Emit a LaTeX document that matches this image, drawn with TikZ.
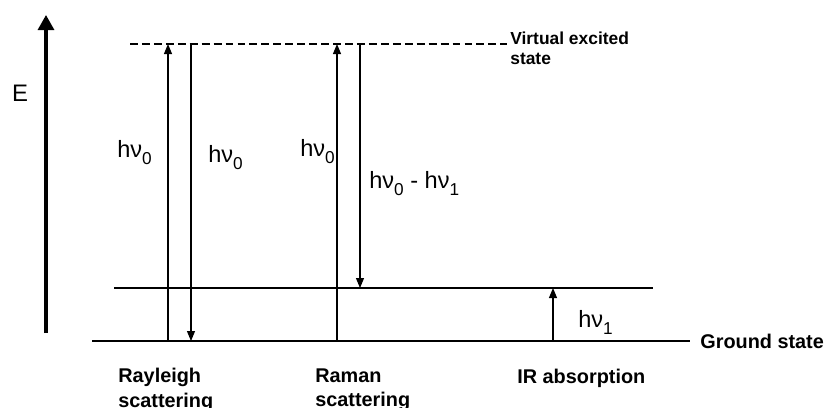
\documentclass[tikz,border=0pt]{standalone}
\usepackage{fontspec}
\setmainfont{Liberation Sans}
\usetikzlibrary{positioning,arrows.meta}

\newcommand{\lowsub}[1]{\raisebox{-4.2pt}{\fontsize{9.8}{10}\selectfont #1}}

\begin{document}
\begin{tikzpicture}[x=0.02cm, y=-0.02cm,
    level/.style={line width=0.6pt},
    virtual/.style={line width=0.8pt, dash pattern=on 4.5pt off 2.3pt},
    photon/.style={line width=0.6pt, -{Triangle[length=2mm, width=1.6mm]}},
    energy/.style={line width=1.8pt, -{Triangle[length=3mm, width=3.2mm]}},
    hnu/.style={font=\fontsize{13.4}{15}\selectfont, inner sep=0pt, anchor=base west},
    caption/.style={font=\fontsize{11.3}{14}\selectfont\bfseries, inner sep=0pt,
                    anchor=north west, align=left}
]

\useasboundingbox (0,0) rectangle (826,407);

\def\yv{44}
\def\ym{288}
\def\yg{341}

% energy axis
\coordinate (axisbot) at (46,333);
\coordinate (axistop) at (46,15);
\draw[energy] (axisbot) -- (axistop);
\node[font=\fontsize{13.6}{14}\selectfont, inner sep=0pt] (elabel) at (20,93) {E};

% levels
\coordinate (virtL) at (130,\yv);
\coordinate (virtR) at (507,\yv);
\coordinate (vibL) at (114,\ym);
\coordinate (vibR) at (653,\ym);
\coordinate (gndL) at (92,\yg);
\coordinate (gndR) at (690,\yg);
\draw[virtual] (virtL) -- (virtR);
\draw[level] (vibL) -- (vibR);
\draw[level] (gndL) -- (gndR);

\node[font=\fontsize{9.9}{11.3}\selectfont\bfseries, inner sep=0pt, anchor=north west,
      align=left] (virtlabel) at (510,32) {Virtual excited\\state};
\node[font=\fontsize{11.3}{14}\selectfont\bfseries, inner sep=0pt, anchor=west,
      right=0.2cm of gndR] (gndlabel) {Ground state};

% Rayleigh
\coordinate (rayA) at (168,\yg);
\coordinate (rayB) at (168,\yv);
\coordinate (rayC) at (191,\yv);
\coordinate (rayD) at (191,\yg);
\draw[photon] (rayA) -- (rayB);
\draw[photon] (rayC) -- (rayD);
\node[hnu] (rayin) at (117,157) {hν\lowsub{0}};
\node[hnu] (rayout) at (208,162) {hν\lowsub{0}};

% Raman
\coordinate (ramA) at (337,\yg);
\coordinate (ramB) at (337,\yv);
\coordinate (ramC) at (360,\yv);
\coordinate (ramD) at (360,\ym);
\draw[photon] (ramA) -- (ramB);
\draw[photon] (ramC) -- (ramD);
\node[hnu] (ramin) at (300,156) {hν\lowsub{0}};
\node[hnu] (ramout) at (369,188) {hν\lowsub{0} - hν\lowsub{1}};

% IR
\coordinate (irA) at (553,\yg);
\coordinate (irB) at (553,\ym);
\draw[photon] (irA) -- (irB);
\node[hnu] (irnu) at (578,327) {hν\lowsub{1}};

\node[caption] (raycap) at (118,368) {Rayleigh\\scattering};
\node[caption] (ramcap) at (315,368) {Raman\\scattering};
\node[caption] (ircap) at (517,369) {IR absorption};

\end{tikzpicture}
\end{document}
